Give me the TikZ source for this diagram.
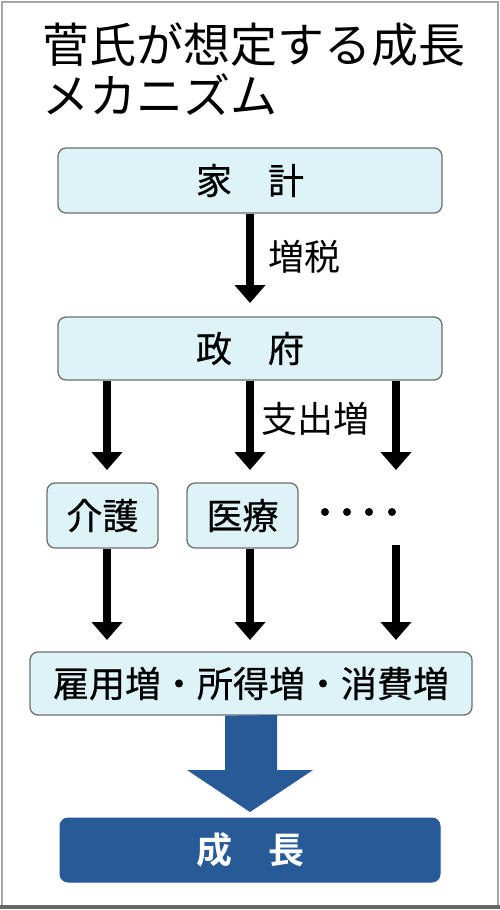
\documentclass[tikz,border=0pt]{standalone}
\usepackage{fontspec}
\setmainfont{Noto Sans CJK JP}[BoldFont={Noto Sans CJK JP Bold}]
\newfontfamily\medfont{Noto Sans CJK JP}[FakeBold=0.6]
\usetikzlibrary{arrows.meta}
\definecolor{boxfill}{HTML}{DDF3F8}
\definecolor{boxline}{HTML}{6E6E6E}
\definecolor{darkblue}{HTML}{275A97}
\tikzset{
  lightbox/.style={draw=boxline, line width=1.3pt, fill=boxfill, rounded corners=8pt, inner sep=0pt, font=\medfont\fontsize{36}{40}\selectfont},
  flowarrow/.style={line width=8pt, -{Triangle[width=30pt,length=18pt]}},
  lbl/.style={inner sep=0pt, font=\fontsize{36}{40}\selectfont, anchor=west},
}
\begin{document}
\begin{tikzpicture}[x=1pt,y=-1pt]
\useasboundingbox (0,0) rectangle (500,910);
\draw[draw=gray!70, line width=2pt] (1.5,1.5) rectangle (497.5,906);
\draw[draw=gray!80!black, line width=3.5pt] (0,907) -- (500,907);
% title
\node[anchor=base west, inner sep=0pt, font=\fontsize{47}{52}\selectfont] (t1) at (42,62) {菅氏が想定する成長};
\node[anchor=base west, inner sep=0pt, font=\fontsize{47}{52}\selectfont] (t2) at (42,113) {メカニズム};
% boxes
\node[lightbox, minimum width=384pt, minimum height=65pt] (kakei) at (250,180.5) {家\hspace{36pt}計};
\node[lightbox, minimum width=384pt, minimum height=63pt] (seifu) at (250,348.5) {政\hspace{36pt}府};
\node[lightbox, minimum width=111pt, minimum height=65pt] (kaigo) at (102.5,515.5) {介護};
\node[lightbox, minimum width=111pt, minimum height=65pt] (iryo) at (242.5,515.5) {医療};
\node[lightbox, minimum width=442pt, minimum height=63pt] (koyo) at (251,683.5) {雇用増・所得増・消費増};
\node[draw=darkblue, line width=1pt, fill=darkblue, rounded corners=8pt, inner sep=0pt, minimum width=380pt, minimum height=64pt, text=white, font=\fontsize{36}{40}\selectfont\bfseries] (seicho) at (250,850) {成\hspace{36pt}長};
% dots
\foreach \i/\xx in {1/325,2/347,3/369,4/392} {
  \fill (\xx,512) circle (4pt);
}
% coordinates
\coordinate (a1) at (250,303);
\coordinate (b1) at (107,470);
\coordinate (b2) at (250,470);
\coordinate (b3) at (396,470);
\coordinate (c3s) at (396,545);
\coordinate (c1) at (107,640);
\coordinate (c2) at (250,640);
\coordinate (c3) at (396,640);
% arrows
\draw[flowarrow] (kakei.south) -- (a1);
\draw[flowarrow] (seifu.south -| b1) -- (b1);
\draw[flowarrow] (seifu.south) -- (b2);
\draw[flowarrow] (seifu.south -| b3) -- (b3);
\draw[flowarrow] (kaigo.south -| c1) -- (c1);
\draw[flowarrow] (iryo.south -| c2) -- (c2);
\draw[flowarrow] (c3s) -- (c3);
% labels
\node[lbl] (zouzei) at (268,257) {増税};
\node[lbl] (shishutsu) at (261,419) {支出増};
% big arrow
\fill[darkblue] (koyo.south -| 225,0) -- (277,715) -- (277,770) -- (313,770) -- (250,812) -- (187,770) -- (225,770) -- cycle;
\end{tikzpicture}
\end{document}
